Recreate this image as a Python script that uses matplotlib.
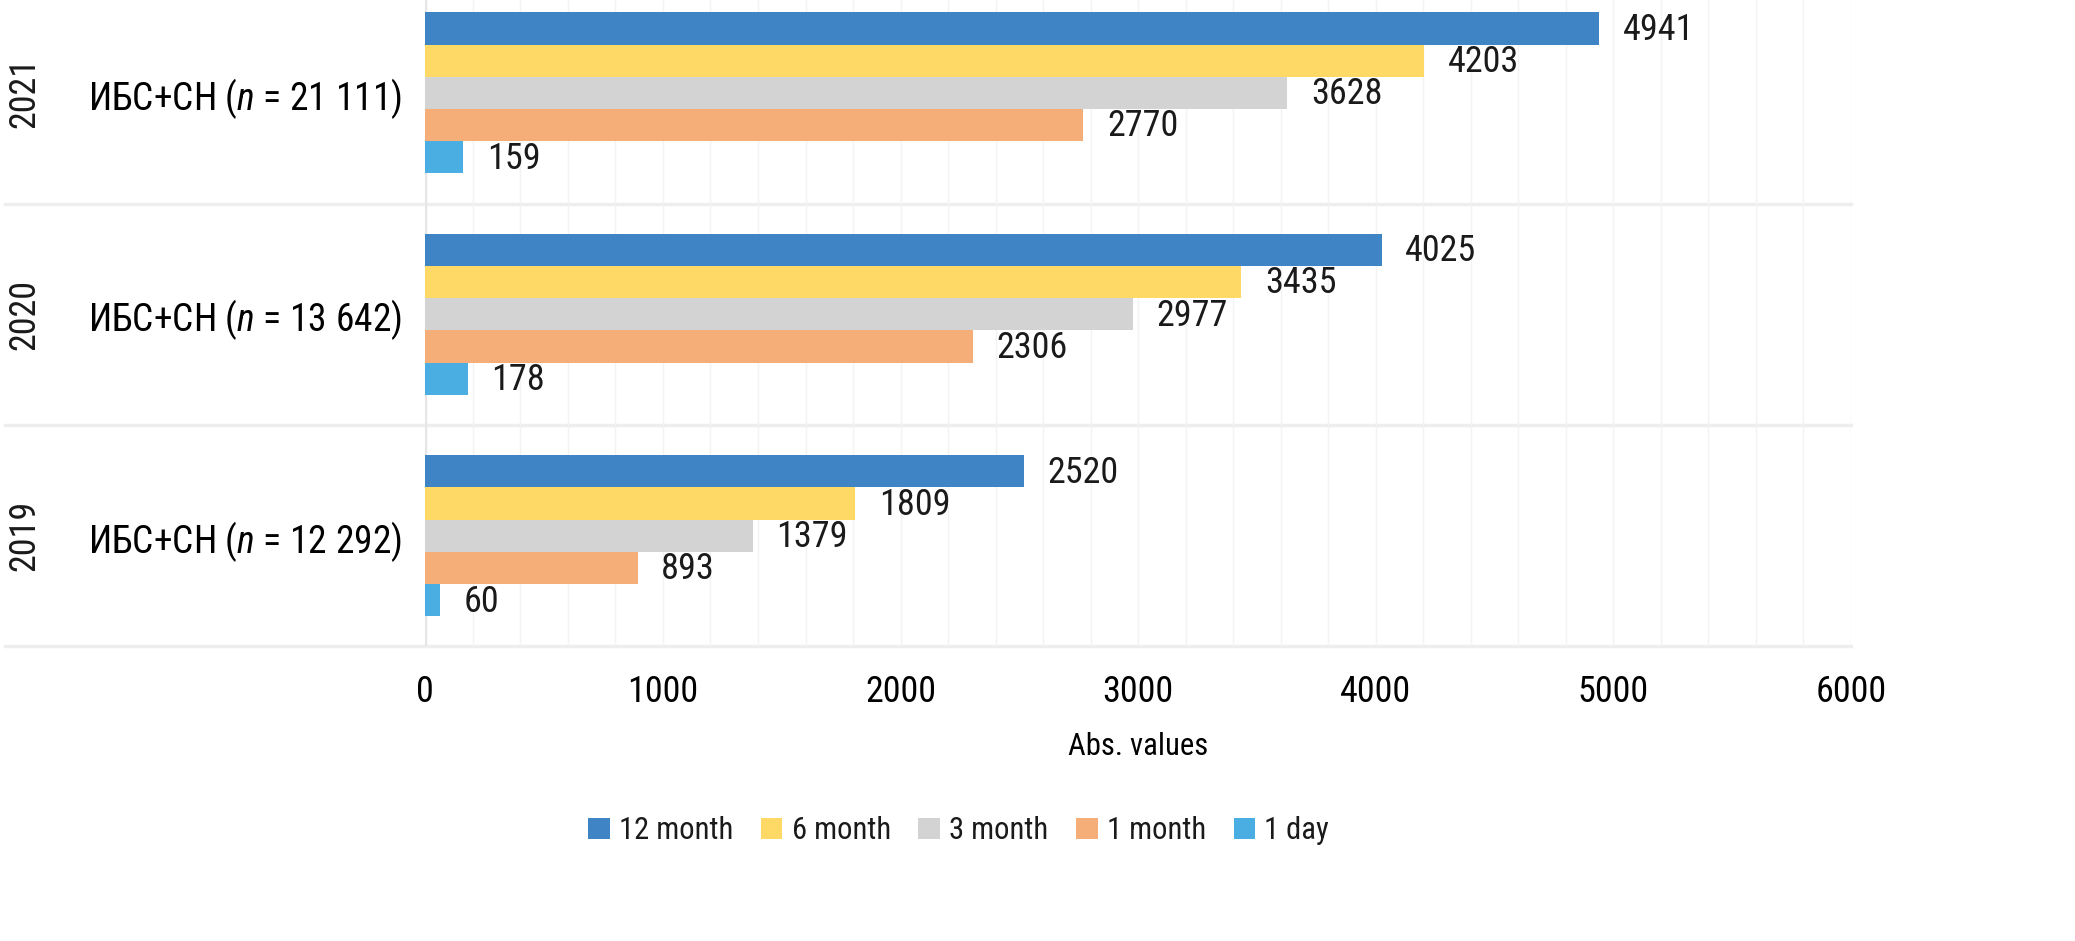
import matplotlib
matplotlib.use("Agg")
import matplotlib.pyplot as plt
import numpy as np
from matplotlib import font_manager

# data
years = ["2019", "2020", "2021"]
groups = ["ИБС+СН ($n$ = 12 292)", "ИБС+СН ($n$ = 13 642)", "ИБС+СН ($n$ = 21 111)"]
series = ["12 month", "6 month", "3 month", "1 month", "1 day"]
m12 = [2520, 4025, 4941]
m6 = [1809, 3435, 4203]
m3 = [1379, 2977, 3628]
m1 = [893, 2306, 2770]
d1 = [60, 178, 159]
colors = ["#3F84C5", "#FFD966", "#D3D3D3", "#F5AE78", "#4BAEE3"]

# pick a narrow font if one is installed
installed = {f.name for f in font_manager.fontManager.ttflist}
fam = "DejaVu Sans"
for cand in ["Roboto Condensed", "Liberation Sans Narrow", "Open Sans Condensed"]:
    if cand in installed:
        fam = cand
        break
plt.rcParams["font.family"] = [fam, "DejaVu Sans"]
if fam == "DejaVu Sans":
    plt.rcParams["font.stretch"] = "condensed"
    fs = 21
else:
    fs = 26
plt.rcParams["mathtext.fontset"] = "custom"
plt.rcParams["mathtext.it"] = fam + ":italic"
plt.rcParams["mathtext.rm"] = fam
plt.rcParams["text.color"] = "#1a1a1a"

fig = plt.figure(figsize=(20.75, 9.41), dpi=100)
ax = fig.add_axes([0.205, 0.313, 0.687, 0.706])

ypos = np.arange(len(years))
h = 0.1455
data = [m12, m6, m3, m1, d1]
for i, (name, vals, c) in enumerate(zip(series, data, colors)):
    yy = ypos + (2 - i) * h
    ax.barh(yy, vals, height=h, color=c, label=name, zorder=3)
    for y, v in zip(yy, vals):
        ax.annotate(str(v), (v, y), xytext=(17, -1), textcoords="offset points",
                    ha="left", va="center", fontsize=fs, zorder=4)

ax.set_xlim(0, 6000)
ax.set_ylim(-0.5, 2.5)
for s in ax.spines.values():
    s.set_visible(False)

ax.set_xticks(np.arange(0, 6001, 1000))
ax.set_xticks(np.arange(0, 6001, 200), minor=True)
ax.grid(which="both", axis="x", color="#f3f3f3", lw=1, zorder=0)
ax.axvline(0, color="#e6e6e6", lw=2.5, zorder=2)
ax.tick_params(axis="x", which="both", length=0, labelsize=fs, pad=20)

ax.set_yticks(ypos)
ax.set_yticklabels(groups, fontsize=fs + 1)
ax.tick_params(axis="y", length=0, pad=17)

# group separators running under the labels
for yv in [-0.5, 0.5, 1.5]:
    ax.plot([-0.295, 1], [yv, yv], transform=ax.get_yaxis_transform(),
            color="#eeeeee", lw=2.5, clip_on=False, zorder=1)

for y, yr in zip(ypos, years):
    ax.text(-0.281, y, yr, transform=ax.get_yaxis_transform(), rotation=90,
            ha="center", va="center", fontsize=fs)

ax.set_xlabel("Abs. values", fontsize=fs * 0.85, labelpad=16)

fig.legend(loc="center", bbox_to_anchor=(0.462, 0.117), ncol=5, frameon=False,
           handlelength=0.7, handleheight=0.7, handletextpad=0.3,
           columnspacing=0.9, fontsize=fs * 0.85)

fig.savefig("out.png", dpi=100)
